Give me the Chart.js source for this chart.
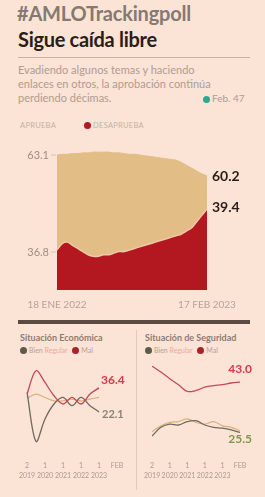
<!DOCTYPE html>
<html>
<head>
<meta charset="utf-8">
<script src="https://cdn.jsdelivr.net/npm/chart.js@4.4.0/dist/chart.umd.min.js"></script>
<style>
body{margin:0;width:265px;height:497px;background:#fbe3d6;font-family:Lato,sans-serif;position:relative;overflow:hidden}
.a{position:absolute;white-space:nowrap}
.dot{display:inline-block;width:7px;height:7px;border-radius:50%;vertical-align:-1px;margin-right:2px}
</style>
</head>
<body>
<div class="a" style="left:17px;top:1px;font-size:20px;font-weight:bold;color:#857972;letter-spacing:-0.2px">#AMLOTrackingpoll</div>
<div class="a" style="left:18px;top:27px;font-size:20px;font-weight:bold;color:#2b1d18;letter-spacing:-0.3px">Sigue caída libre</div>
<div class="a" style="left:18px;top:57px;width:232px;height:1px;background:#c9b2a4"></div>
<div class="a" style="left:18px;top:63px;font-size:11px;line-height:14px;color:#b09c92">Evadiendo algunos temas y haciendo<br>enlaces en otros, la aprobación continúa<br>perdiendo décimas.</div>
<div class="a" style="left:203px;top:92px;font-size:10px;color:#b09c92"><span class="dot" style="background:#2aa98f"></span>Feb. 47</div>
<div class="a" style="left:20px;top:121px;font-size:7.5px;color:#c4b2a6;letter-spacing:0.3px">APRUEBA</div>
<div class="a" style="left:84px;top:121px;font-size:7.5px;color:#c4b2a6;letter-spacing:0.3px"><span class="dot" style="background:#b3171f"></span>DESAPRUEBA</div>

<div class="a" style="left:0;top:140px"><canvas id="main" width="265" height="175"></canvas></div>

<div class="a" style="left:18px;top:320px;width:232px;height:4px;background:#5b4a42"></div>
<div class="a" style="left:136px;top:330px;width:1px;height:160px;background:#e6c9b9"></div>

<div class="a" style="left:20px;top:332px;font-size:9px;font-weight:bold;color:#8e7b72">Situación Económica</div>
<div class="a" style="left:20px;top:346px;font-size:7px;color:#b5a298"><span class="dot" style="background:#5d5a4a"></span>Bien <span style="color:#e9aaa0">Regular</span> <span class="dot" style="background:#a5252a;margin-left:3px"></span>Mal</div>
<div class="a" style="left:145px;top:332px;font-size:9px;font-weight:bold;color:#8e7b72">Situación de Seguridad</div>
<div class="a" style="left:145px;top:346px;font-size:7px;color:#b5a298"><span class="dot" style="background:#5d5a4a"></span>Bien <span style="color:#e9aaa0">Regular</span> <span class="dot" style="background:#a5252a;margin-left:3px"></span>Mal</div>

<div class="a" style="left:0;top:358px"><canvas id="eco" width="135" height="135"></canvas></div>
<div class="a" style="left:136px;top:358px"><canvas id="seg" width="129" height="135"></canvas></div>

<script>
Chart.defaults.font.family = 'Lato, sans-serif';

// main tracking poll (weekly)
const weeks = ['18 ENE 2022','','','','','','','','','','','','','','','','','','','','','','','','','','','','','17 FEB 2023'];
const aprueba = [63.1,63.2,63.2,63.3,63.3,63.4,63.4,63.5,63.5,63.5,63.5,63.4,63.4,63.3,63.2,63.2,63.1,63.0,62.9,62.8,62.7,62.6,62.5,62.4,62.1,61.7,61.3,60.9,60.5,60.2];
const desaprueba = [36.8,37.2,37.3,37.1,36.9,36.7,36.5,36.4,36.4,36.5,36.5,36.6,36.7,36.7,36.8,36.9,37.0,37.1,37.2,37.3,37.4,37.5,37.6,37.7,37.8,38.0,38.2,38.6,39.0,39.4];

// small panels
const periodos = [['2','2019'],'',['1','2020'],'',['1','2021'],'',['1','2022'],'',['1','2023'],'',['FEB','']];
const ecoBien = [33.7,4.5,17.9,26.8,30.7,25.8,30.7,25.8,22.1,null,null];
const ecoRegular = [30.2,32.7,30.7,28.7,28.7,29.7,28.7,29.7,30.7,null,null];
const ecoMal = [32.7,46.6,39.6,31.7,26.8,30.7,26.8,32.7,36.4,null,null];
const segBien = [24.3,27.3,28.4,28.1,29.3,29.6,28.1,27.3,27.0,26.4,25.5];
const segRegular = [25.8,27.8,29.0,29.3,30.2,29.0,28.4,29.3,27.8,27.3,26.1];
const segMal = [48.5,46.5,44.2,42.1,39.8,40.1,41.3,41.8,42.1,42.7,43.0];

function lastIdx(arr) {
    let i = arr.length - 1;
    while (i > 0 && arr[i] == null) i--;
    return i;
}

// draws value labels next to series ends
const endLabels = {
    id: 'endLabels',
    afterDatasetsDraw(chart, args, opts) {
        const ctx = chart.ctx;
        (opts.items || []).forEach(it => {
            const meta = chart.getDatasetMeta(it.ds);
            const data = chart.data.datasets[it.ds].data;
            const i = it.first ? 0 : lastIdx(data);
            const pt = meta.data[i];
            ctx.save();
            ctx.font = it.font;
            ctx.fillStyle = it.color;
            ctx.textAlign = it.align || 'left';
            ctx.textBaseline = 'middle';
            ctx.fillText(data[i].toFixed(1), pt.x + it.dx, pt.y + it.dy);
            if (it.tick) {
                ctx.strokeStyle = '#d9c3b6';
                ctx.lineWidth = 1;
                ctx.beginPath();
                ctx.moveTo(pt.x - 6, pt.y + it.dy);
                ctx.lineTo(pt.x - 1, pt.y + it.dy);
                ctx.stroke();
            }
            ctx.restore();
        });
    }
};

new Chart(document.getElementById('main'), {
    type: 'line',
    data: {
        labels: weeks,
        datasets: [{
            label: 'Desaprueba',
            data: desaprueba,
            yAxisID: 'y2',
            backgroundColor: '#b3171f',
            borderColor: '#f2c7a9',
            borderWidth: 1.5,
            fill: 'start',
            pointRadius: 0,
            tension: 0.3
        }, {
            label: 'Aprueba',
            data: aprueba,
            yAxisID: 'y',
            backgroundColor: '#e2bd86',
            borderColor: '#e2bd86',
            borderWidth: 1,
            fill: 'start',
            pointRadius: 0,
            tension: 0.3
        }]
    },
    options: {
        responsive: false,
        animation: false,
        layout: { padding: { left: 57, right: 58, top: 10, bottom: 3 } },
        plugins: {
            legend: { display: false },
            tooltip: { enabled: false },
            endLabels: {
                items: [
                    { ds: 1, first: true, dx: -8, dy: 0, align: 'right', font: '11px Lato', color: '#a08d82', tick: true },
                    { ds: 0, first: true, dx: -8, dy: 2, align: 'right', font: '11px Lato', color: '#a08d82', tick: true },
                    { ds: 1, dx: 5, dy: 1, font: 'bold 14px Lato', color: '#2b1d18' },
                    { ds: 0, dx: 5, dy: -2, font: 'bold 14px Lato', color: '#2b1d18' }
                ]
            }
        },
        scales: {
            x: {
                offset: false,
                grid: { display: false },
                border: { display: false },
                ticks: {
                    autoSkip: false, maxRotation: 0, padding: 1,
                    color: '#b6a397', font: { size: 10 },
                    callback: (v, i) => weeks[i]
                }
            },
            y: { display: false, min: 44.4, max: 63.8 },
            y2: { display: false, min: 34.26, max: 43.15 }
        }
    },
    plugins: [endLabels]
});

function panel(id, bien, regular, mal, ymin, ymax, pad, labels) {
    const line = (d, c, w) => ({ data: d, borderColor: c, borderWidth: w, pointRadius: 0, tension: 0.35, fill: false });
    new Chart(document.getElementById(id), {
        type: 'line',
        data: {
            labels: periodos,
            datasets: [line(mal, '#c4495a', 1.3), line(bien, '#6f6a5c', 1.3), line(regular, '#d8b17f', 1.2)]
        },
        options: {
            responsive: false,
            animation: false,
            layout: { padding: pad },
            plugins: { legend: { display: false }, tooltip: { enabled: false }, endLabels: { items: labels } },
            scales: {
                x: {
                    offset: false,
                    grid: { display: false },
                    border: { display: false },
                    ticks: {
                        autoSkip: false, maxRotation: 0, padding: 8,
                        color: '#ad9a90', font: { size: 7, lineHeight: 1.5 }
                    }
                },
                y: { display: false, min: ymin, max: ymax }
            }
        },
        plugins: [endLabels]
    });
}

panel('eco', ecoBien, ecoRegular, ecoMal, 3, 50, { left: 27, right: 18, top: 7, bottom: 4 }, [
    { ds: 0, dx: 2, dy: -8, font: 'bold 12px Lato', color: '#d8364a' },
    { ds: 1, dx: 3, dy: 3, font: 'bold 11px Lato', color: '#8a8478' }
]);
panel('seg', segBien, segRegular, segMal, 21.5, 50, { left: 14, right: 25, top: 4, bottom: 4 }, [
    { ds: 0, dx: 12, dy: -13, align: 'right', font: 'bold 12px Lato', color: '#d8364a' },
    { ds: 1, dx: 12, dy: 7, align: 'right', font: 'bold 12px Lato', color: '#7f9a4a' }
]);
</script>
</body>
</html>
